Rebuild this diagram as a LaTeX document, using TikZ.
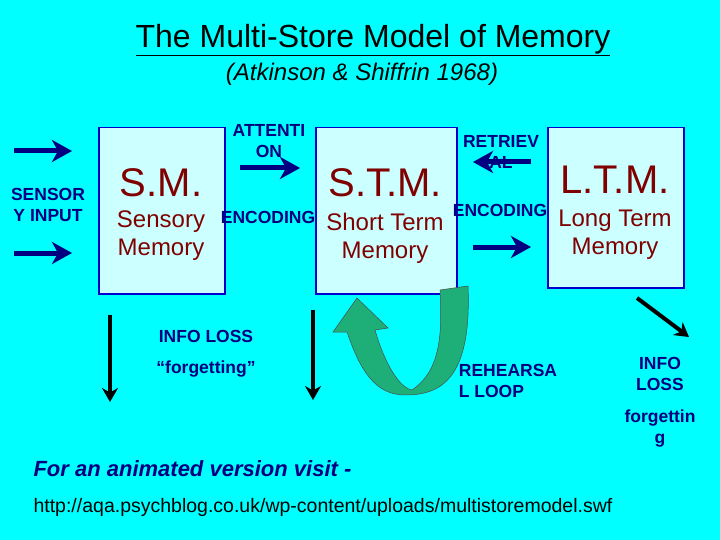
\documentclass[tikz,border=0pt]{standalone}
\usepackage{fontspec}
\setmainfont{Liberation Sans}
\usetikzlibrary{arrows.meta}
\definecolor{bgc}{RGB}{0,255,255}
\definecolor{boxc}{RGB}{204,255,255}
\definecolor{navy}{RGB}{0,0,128}
\definecolor{maroon}{RGB}{128,0,0}
\definecolor{loopg}{RGB}{30,175,120}
\begin{document}
\begin{tikzpicture}[x=1pt,y=-1pt,
  box/.style={draw=blue!80!black,line width=1.5pt,fill=boxc,minimum width=126pt,minimum height=166pt,anchor=north west,inner sep=0},
  bigt/.style={text=maroon,font=\fontsize{40}{40}\selectfont},
  subt/.style={text=maroon,font=\fontsize{24}{28}\selectfont,align=center},
  lbl/.style={text=navy,font=\bfseries\fontsize{17.5}{21}\selectfont,align=center},
  barr/.style={draw=navy,line width=5pt,-{Stealth[length=20pt,width=22pt,inset=6pt]}},
  karr/.style={draw=black,line width=4pt,-{Stealth[length=14pt,width=16pt]}}]
\fill[bgc] (0,0) rectangle (720,540);
\node (title) at (373,40) {\fontsize{32}{34}\selectfont\underline{The Multi-Store Model of Memory}};
\node (sub) at (362,74) {\itshape\fontsize{24}{26}\selectfont (Atkinson \& Shiffrin 1968)};
\node[box] (sm) at (98,127) {};
\node[box,minimum width=141pt] (stm) at (315,127) {};
\node[box,minimum width=136pt,minimum height=160pt] (ltm) at (547,127) {};
\node[bigt] (smt) at (161,183) {S.M.};
\node[subt] (sms) at (161,236) {Sensory\\Memory};
\node[bigt] (stmt) at (385,183) {S.T.M.};
\node[subt] (stms) at (385,238) {Short Term\\Memory};
\node[bigt] (ltmt) at (615,180) {L.T.M.};
\node[subt] (ltms) at (615,235) {Long Term\\Memory};
\node[lbl] (sens) at (48,205) {SENSOR\\Y INPUT};
\coordinate (a1s) at (14,151); \coordinate (a1e) at (72,151);
\coordinate (a2s) at (14,253); \coordinate (a2e) at (72,253);
\draw[barr] (a1s) -- (a1e); \draw[barr] (a2s) -- (a2e);
\node[lbl] (att) at (269,141) {ATTENTI\\ON};
\coordinate (ats) at (240,168); \coordinate (ate) at (300,168);
\draw[barr] (ats) -- (ate);
\node[lbl] (enc1) at (268,217) {ENCODING};
\node[lbl] (ret) at (501,152) {RETRIEV\\AL};
\coordinate (rs) at (531,162); \coordinate (re) at (473,162);
\draw[barr] (rs) -- (re);
\node[lbl] (enc2) at (500,210) {ENCODING};
\coordinate (es) at (473,247); \coordinate (ee) at (531,247);
\draw[barr] (es) -- (ee);
\coordinate (d1s) at (110,315); \coordinate (d1e) at (110,402);
\coordinate (d2s) at (313,310); \coordinate (d2e) at (313,400);
\draw[karr] (d1s) -- (d1e); \draw[karr] (d2s) -- (d2e);
\node[lbl] (il) at (206,336) {INFO LOSS};
\node[lbl] (fg) at (206,369) {``forgetting''};
\coordinate (ds) at (637,298); \coordinate (de) at (689,337);
\draw[karr] (ds) -- (de);
\node[lbl] (il2) at (660,374) {INFO\\LOSS};
\node[lbl] (fg2) at (660,429) {forgettin\\g};
\node[lbl,align=left] (reh) at (508,381) {REHEARSA\\L LOOP};
\path[fill=loopg,draw=black!70,line width=0.5pt]
 (468,286) .. controls (472,380) and (440,395) .. (405,395)
 .. controls (375,395) and (360,370) .. (347,332)
 -- (333,332) -- (357,298) -- (388,328) -- (375,330)
 .. controls (385,365) and (400,388) .. (412,390)
 .. controls (442,370) and (442,330) .. (440,290) -- cycle;
\node[text=navy,font=\bfseries\itshape\fontsize{22}{24}\selectfont,anchor=west] (anim) at (30,469) {For an animated version visit -};
\node[font=\fontsize{19.5}{22}\selectfont,anchor=west] (url) at (30,507) {http://aqa.psychblog.co.uk/wp-content/uploads/multistoremodel.swf};
\end{tikzpicture}
\end{document}
